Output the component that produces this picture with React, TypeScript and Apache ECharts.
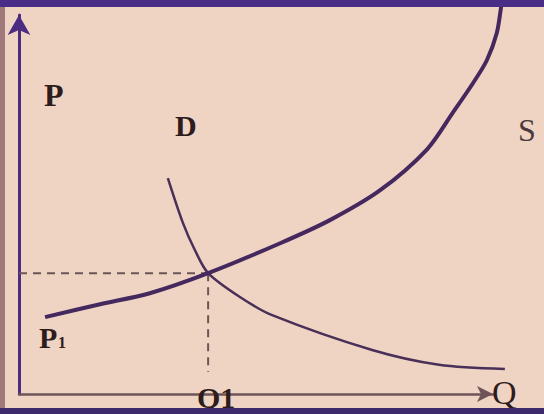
import React, { useEffect, useRef } from "react";
import * as echarts from "echarts";

// Supply curve S (quantity, price)
const supplyQ = [5.5, 17.1, 27.6, 39.9, 55.1, 65.6, 76.2, 86.1, 91.6, 95.8, 98.7, 100.8, 101.7, 101.9];
const supplyP = [20.3, 23.7, 26.6, 31.9, 39.8, 45.9, 53.8, 64.6, 74.4, 82.1, 88.1, 95.3, 102.1, 104];
// Demand curve D (quantity, price)
const demandQ = [31.4, 34.6, 37.1, 39.9, 46.6, 53.4, 74.5, 88.6, 102.5];
const demandP = [57.0, 45.1, 38.0, 31.9, 25.6, 20.8, 11.6, 7.7, 6.6];
// Equilibrium
const eqQ = 39.9;
const eqP = 31.9;
const guideBottomP = 5.8;
// Drawn axes (arrows) and the wider plotting range for the curves
const axisMax = [100, 100];
const plotMax = [110, 104];

const W = 544;
const H = 414;
const serif = "'Liberation Serif', 'DejaVu Serif', serif";
const ink = "#2e1c1c";

const hiddenAxis = (gridIndex: number, max: number) => ({
  type: "value",
  gridIndex,
  min: 0,
  max,
  show: false,
  splitLine: { show: false },
});

export default function App() {
  const ref = useRef<HTMLDivElement>(null);
  useEffect(() => {
    if (!ref.current) return;
    const chart = echarts.init(ref.current, null, { renderer: "svg" });
    const supply = supplyQ.map((q, i) => [q, supplyP[i]]);
    const demand = demandQ.map((q, i) => [q, demandP[i]]);
    const unitX = 474 / axisMax[0];
    const unitY = 379 / axisMax[1];
    chart.setOption({
      animation: false,
      backgroundColor: "#efd4c3",
      grid: [
        { left: 19, right: 51, top: 15, bottom: 20 },
        {
          left: 19,
          right: W - 19 - plotMax[0] * unitX,
          top: H - 20 - plotMax[1] * unitY,
          bottom: 20,
        },
      ],
      xAxis: [
        {
          type: "value",
          gridIndex: 0,
          min: 0,
          max: axisMax[0],
          splitLine: { show: false },
          axisTick: { show: false },
          axisLabel: { show: false },
          axisLine: {
            show: true,
            onZero: false,
            symbol: ["none", "arrow"],
            symbolSize: [12, 16],
            lineStyle: { color: "#6e5458", width: 2.5 },
          },
        },
        hiddenAxis(1, plotMax[0]),
      ],
      yAxis: [
        {
          type: "value",
          gridIndex: 0,
          min: 0,
          max: axisMax[1],
          splitLine: { show: false },
          axisTick: { show: false },
          axisLabel: { show: false },
          axisLine: {
            show: true,
            onZero: false,
            symbol: ["none", "arrow"],
            symbolSize: [17, 20],
            lineStyle: { color: "#4a2c80", width: 3 },
          },
        },
        hiddenAxis(1, plotMax[1]),
      ],
      series: [
        {
          type: "line",
          xAxisIndex: 1,
          yAxisIndex: 1,
          data: [[0, eqP], [eqQ, eqP]],
          symbol: "none",
          lineStyle: { color: "#6a5656", width: 2, type: [8, 6] },
        },
        {
          type: "line",
          xAxisIndex: 1,
          yAxisIndex: 1,
          data: [[eqQ, eqP], [eqQ, guideBottomP]],
          symbol: "none",
          lineStyle: { color: "#6a5656", width: 2, type: [8, 6] },
        },
        {
          type: "line",
          xAxisIndex: 1,
          yAxisIndex: 1,
          data: demand,
          symbol: "none",
          smooth: 0.3,
          lineStyle: { color: "#4a3058", width: 2.5 },
        },
        {
          type: "line",
          xAxisIndex: 1,
          yAxisIndex: 1,
          data: supply,
          symbol: "none",
          smooth: 0.3,
          lineStyle: { color: "#45285e", width: 4 },
        },
      ],
      graphic: [
        { type: "rect", left: 0, top: 0, z: 100, shape: { width: W, height: 7 }, style: { fill: "#4a2d86" } },
        { type: "rect", left: 0, top: 408, z: 100, shape: { width: W, height: 6 }, style: { fill: "#3c2a6c" } },
        { type: "rect", left: 0, top: 0, z: 99, shape: { width: 5, height: H }, style: { fill: "#a07a7a" } },
        { type: "text", left: 44, top: 79, z: 50, style: { text: "P", font: `bold 32px ${serif}`, fill: ink } },
        { type: "text", left: 175, top: 110, z: 50, style: { text: "D", font: `bold 30px ${serif}`, fill: ink } },
        { type: "text", left: 518, top: 114, z: 50, style: { text: "S", font: `32px ${serif}`, fill: "#4a3a3c" } },
        { type: "text", left: 39, top: 322, z: 50, style: { text: "P", font: `bold 30px ${serif}`, fill: ink } },
        { type: "text", left: 58, top: 334, z: 50, style: { text: "1", font: `bold 16px ${serif}`, fill: ink } },
        { type: "text", left: 197, top: 382, z: 50, style: { text: "Q1", font: `bold 30px ${serif}`, fill: ink } },
        { type: "text", left: 492, top: 375, z: 50, style: { text: "Q", font: `34px ${serif}`, fill: ink } },
      ],
    });
    return () => chart.dispose();
  }, []);
  return (
    <div
      ref={ref}
      style={{ position: "fixed", left: 0, top: 0, width: W, height: H }}
    />
  );
}
